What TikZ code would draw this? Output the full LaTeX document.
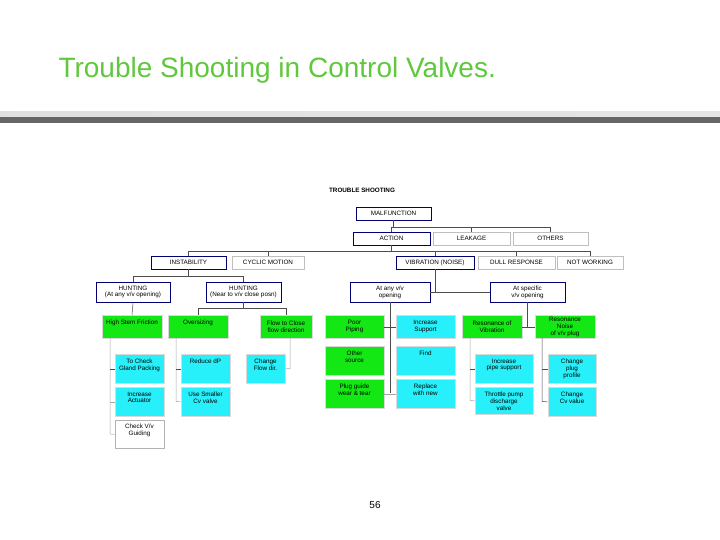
\documentclass[tikz,border=0pt]{standalone}
\usepackage{fontspec}
\setmainfont{Liberation Sans}
\definecolor{cy}{RGB}{40,240,250}
\definecolor{gr}{RGB}{20,232,20}
\definecolor{tt}{RGB}{95,200,60}
\begin{document}
\begin{tikzpicture}[x=1pt,y=1pt,
  bx/.style={draw=#1,line width=0.7pt,inner sep=0pt,align=center,font=\fontsize{6.3}{6.9}\selectfont,anchor=center},
  blu/.style={bx=blue!45!black,fill=white},
  gry/.style={bx=black!25,fill=white},
  grn/.style={bx=black!15,fill=gr,anchor=north},
  cyn/.style={bx=black!15,fill=cy,anchor=north},
  wht/.style={bx=black!30,fill=white,anchor=north},
  ln/.style={draw=black!70,line width=0.5pt},
  lnl/.style={draw=black!35,line width=0.5pt}]
\useasboundingbox (0,0) rectangle (720,-540);
\node[anchor=west,font=\fontsize{28}{32}\selectfont,text=tt] (title) at (55,-70) {Trouble Shooting in Control Valves.};
\shade[left color=black!12,right color=black!10] (0,-112) rectangle (720,-118);
\shade[left color=black!60,middle color=black!28,right color=black!60] (0,-118) rectangle (720,-123);
\node[font=\fontsize{6.3}{7}\selectfont\bfseries] (ts) at (362,-190) {TROUBLE SHOOTING};
\newcommand{\bxx}[7]{\node[#1,minimum width=#4-#3,minimum height=#6-#5] (#2) at ({(#3+#4)/2},{-(#5+#6)/2}) {#7};}
\bxx{blu}{mal}{356}{431}{207}{220}{MALFUNCTION}
\bxx{blu}{act}{353}{430}{232}{245}{ACTION}
\bxx{gry}{leak}{433}{510}{232}{245}{LEAKAGE}
\bxx{gry}{oth}{513}{588}{232}{245}{OTHERS}
\bxx{blu}{inst}{151}{226}{256}{269}{INSTABILITY}
\bxx{gry}{cyc}{232}{304}{256}{269}{CYCLIC MOTION}
\bxx{blu}{vib}{396}{474}{256}{269}{VIBRATION (NOISE)}
\bxx{gry}{dull}{478}{555}{256}{269}{DULL RESPONSE}
\bxx{gry}{notw}{557}{623}{256}{269}{NOT WORKING}
\bxx{blu}{hunta}{96}{170}{282}{302}{HUNTING\\(At any v/v opening)}
\bxx{blu}{huntn}{206}{281}{282}{302}{HUNTING\\(Near to v/v close posn)}
\bxx{blu}{anyv}{350}{430}{282}{302}{At any v/v\\opening}
\bxx{blu}{spec}{490}{565}{282}{302}{At specific\\v/v opening}
\draw[ln] (mal.south) -- (mal.south|-0,-227);
\draw[ln] (act.north) -- (act.north|-0,-227) -| (oth.north);
\draw[ln] (leak.north) -- (leak.north|-0,-227);
\draw[ln] (act.south) -- (act.south|-0,-251);
\draw[ln] (inst.north) -- (inst.north|-0,-251) -| (notw.north);
\draw[ln] (cyc.north) -- (cyc.north|-0,-251);
\draw[ln] (vib.north) -- (vib.north|-0,-251);
\draw[ln] (dull.north) -- (dull.north|-0,-251);
\draw[ln] (inst.south) -- (inst.south|-0,-276);
\draw[ln] (hunta.north) -- (hunta.north|-0,-276) -| (huntn.north);
\draw[ln] (vib.south) -- (vib.south|-0,-292);
\draw[ln] (anyv.east) -- (spec.west);
\newcommand{\gb}[7]{\node[#1,minimum width=#4-#3,minimum height=#6-#5] (#2) at ({(#3+#4)/2},-#5) {#7};}
\gb{grn}{hsf}{102}{162}{315}{338}{High Stem Friction\\\strut}
\gb{grn}{ovs}{168}{228}{315}{338}{Oversizing\\\strut}
\gb{grn}{ftc}{260}{312}{315}{338}{Flow to Close\\flow direction}
\gb{grn}{poor}{325}{384}{315}{338}{Poor\\Piping}
\gb{cyn}{incs}{396}{455}{315}{338}{Increase\\Support}
\gb{grn}{rvib}{462}{522}{315}{338}{Resonance of\\Vibration}
\gb{grn}{rnoi}{535}{595}{315}{338}{Resonance\\Noise\\of v/v plug}
\gb{grn}{osrc}{325}{384}{346}{375}{Other\\source\\\strut}
\gb{grn}{plug}{325}{384}{379}{408}{Plug guide\\wear \& tear\\\strut}
\gb{cyn}{find}{396}{455}{346}{375}{Find\\\strut\\\strut}
\gb{cyn}{repl}{396}{455}{379}{408}{Replace\\with new\\\strut}
\gb{cyn}{glan}{115}{164}{354}{383}{To Check\\Gland Packing\\\strut}
\gb{cyn}{iact}{115}{164}{387}{416}{Increase\\Actuator\\\strut}
\gb{wht}{guid}{115}{164}{420}{448}{Check V/v\\Guiding\\\strut}
\gb{cyn}{rdp}{181}{230}{354}{383}{Reduce dP\\\strut\\\strut}
\gb{cyn}{smcv}{181}{230}{387}{416}{Use Smaller\\Cv valve\\\strut}
\gb{cyn}{chfl}{246}{285}{354}{383}{Change\\Flow dir.\\\strut}
\gb{cyn}{ipip}{475}{533}{354}{383}{Increase\\pipe support\\\strut}
\gb{cyn}{thr}{475}{533}{387}{414}{Throttle pump\\discharge\\valve}
\gb{cyn}{cplg}{548}{596}{354}{383}{Change\\plug\\profile}
\gb{cyn}{ccv}{548}{596}{387}{416}{Change\\Cv value\\\strut}
\draw[ln] (hunta.south) -- (hsf.north);
\draw[ln] (huntn.south) -- (huntn.south|-0,-308);
\draw[ln] (ovs.north) -- (ovs.north|-0,-308) -| (ftc.north);
\draw[ln] (anyv.south) -- (anyv.south|-0,-393);
\draw[ln] (poor.east) -- (incs.west);
\draw[lnl] (plug.east) -- (repl.west);
\draw[ln] (spec.south) -- (spec.south|-0,-326.5);
\draw[ln] (rvib.east) -- (rnoi.west);
\coordinate (t1) at (110,-338);
\draw[lnl] (t1) -- (110,-434) -- (guid.west);
\draw[ln] (glan.west) -- (glan.west-|t1);
\draw[lnl] (iact.west) -- (iact.west-|t1);
\coordinate (t2) at (176,-338);
\draw[lnl] (t2) -- (176,-401.5) -- (smcv.west);
\draw[ln] (rdp.west) -- (rdp.west-|t2);
\coordinate (t3) at (290,-338);
\draw[lnl] (t3) -- (290,-368.5) -- (chfl.east);
\coordinate (t4) at (470,-338);
\draw[lnl] (t4) -- (470,-400.5) -- (thr.west);
\draw[ln] (ipip.west) -- (ipip.west-|t4);
\coordinate (t5) at (542,-338);
\draw[ln] (t5) -- (542,-401.5) -- (ccv.west);
\draw[ln] (cplg.west) -- (cplg.west-|t5);
\node[font=\fontsize{10}{11}\selectfont] (pg) at (375,-505) {56};
\end{tikzpicture}
\end{document}
